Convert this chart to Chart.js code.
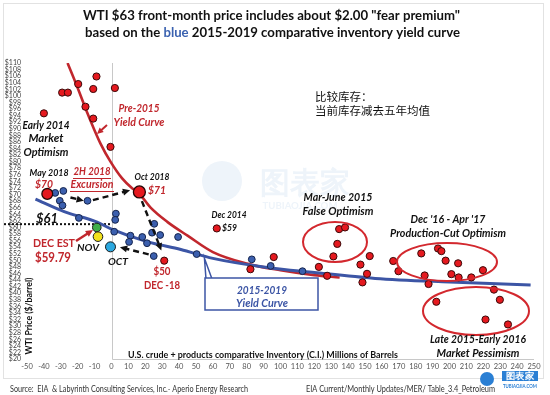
<!DOCTYPE html>
<html>
<head>
<meta charset="utf-8">
<script src="https://cdn.jsdelivr.net/npm/chart.js@4.4.1/dist/chart.umd.min.js"></script>
<style>
html, body { margin: 0; padding: 0; background: #fff; }
#wrap { width: 550px; height: 395px; }
</style>
</head>
<body>
<div id="wrap"><canvas id="chart" width="550" height="395"></canvas></div>
<script>
// axis ranges: [min, max, step]
const xBounds = [-50, 250, 10];
const yBounds = [20, 110, 2];

// pre-2015 yield curve (red)
const preCurveX = [-26, -20, -15, -10.5, -6.5, -0.6, 6.3, 12.2, 16.2, 23, 33, 45, 60, 80, 100, 120, 135];
const preCurveY = [110, 102.4, 95.7, 90.1, 85.5, 80, 74.9, 71.9, 70.4, 66.1, 61.7, 57.5, 52.5, 49, 47, 45.5, 44.8];

// 2015-2019 yield curve (blue)
const curveX = [-45, -28, -8.5, 0, 21, 41, 60, 90, 120, 156, 200, 248];
const curveY = [68.6, 64.8, 61.6, 59.5, 55.7, 53.3, 50.6, 48, 46.3, 44.5, 43.4, 42.5];

// red points (2014-2017 months + Dec-18)
const redX = [-40, -29.2, -25.8, -19.7, -8.9, -10.8, 2, -15.4, -10.8, -0.6,
  31.2, 62.3, 82.2, 96, 122.7, 127.6, 134.7, 138.2, 133.6, 131.3,
  147.3, 152.8, 151.2, 148.5, 166.7, 169.8, 183.3, 185.3, 187.6, 193.2,
  195.2, 197.7, 201.1, 205.1, 205.4, 212.9, 219.8, 226.3, 229.8, 192.2, 221.3, 234.6];
const redY = [94.7, 101, 101, 103.6, 105.9, 102.1, 102.4, 96.7, 93.1, 84.5,
  49.9, 59.7, 47.3, 51, 48, 45.3, 59.5, 60, 55, 51.2,
  48.7, 51.3, 45.9, 43.3, 49.8, 46.7, 52.1, 45.4, 42.8, 53.6,
  52.8, 49.9, 45.8, 49.1, 44.8, 44.8, 47, 41.1, 38, 37.4, 32, 30.5];

// blue points (2017-2018 months)
const blueX = [-33.3, -28.5, -30.6, -29, -14.2, -19.3, 2.6, 2.2, 1.6, 11.2, 10.4, 18.2, 21,
  25.3, 24, 28.8, 25, 39.4, 50.4, 83, 94.2, 113];
const blueY = [70.5, 71.1, 68.1, 66.7, 68.1, 62.9, 64.2, 62.3, 58.7, 57.5, 55.6, 57.1, 55.2,
  61.1, 58.4, 57.7, 51.3, 57.1, 51.9, 50.3, 48.3, 46.7];

// highlighted months [x, y]
const may2018 = [-38, 70.2];
const oct2018 = [16.5, 70.8];
const decEst = [-8.7, 60];
const novPt = [-8, 57.2];
const octPt = [-0.6, 54.1];
const priceLine = 61;

const zip = (xs, ys) => xs.map((x, i) => ({ x: x, y: ys[i] }));

const RED = '#c1272d';
const BLUE = '#3c55a5';
const FONT = 'Lato, "Open Sans", sans-serif';

// text at a given size, squeezed sideways to the width it has in the original
function text(ctx, s, x, y, style, size, color, width, align) {
    ctx.save();
    ctx.font = style + ' ' + size + 'px ' + FONT;
    ctx.fillStyle = color;
    ctx.textAlign = align || 'center';
    ctx.textBaseline = 'middle';
    const w = ctx.measureText(s).width;
    const k = width ? width / w : 1;
    ctx.translate(x, y);
    ctx.scale(k, 1);
    ctx.fillText(s, 0, 0);
    ctx.restore();
}

function arrowHead(ctx, x1, y1, x2, y2, size, color) {
    const a = Math.atan2(y2 - y1, x2 - x1);
    ctx.beginPath();
    ctx.moveTo(x2, y2);
    ctx.lineTo(x2 - size * Math.cos(a - 0.45), y2 - size * Math.sin(a - 0.45));
    ctx.lineTo(x2 - size * Math.cos(a + 0.45), y2 - size * Math.sin(a + 0.45));
    ctx.closePath();
    ctx.fillStyle = color;
    ctx.fill();
}

function arrow(ctx, x1, y1, x2, y2, color, width, dash, size) {
    const a = Math.atan2(y2 - y1, x2 - x1);
    ctx.save();
    ctx.strokeStyle = color;
    ctx.lineWidth = width;
    ctx.setLineDash(dash || []);
    ctx.beginPath();
    ctx.moveTo(x1, y1);
    ctx.lineTo(x2 - size * 0.8 * Math.cos(a), y2 - size * 0.8 * Math.sin(a));
    ctx.stroke();
    ctx.setLineDash([]);
    arrowHead(ctx, x1, y1, x2, y2, size, color);
    ctx.restore();
}

function ellipse(ctx, cx, cy, rx, ry) {
    ctx.beginPath();
    ctx.ellipse(cx, cy, rx, ry, 0, 0, Math.PI * 2);
    ctx.strokeStyle = '#d3282e';
    ctx.lineWidth = 2;
    ctx.stroke();
}

const decor = {
    id: 'decor',
    beforeDraw(chart) {
        const ctx = chart.ctx;
        ctx.save();
        ctx.fillStyle = '#fff';
        ctx.fillRect(0, 0, chart.width, chart.height);
        ctx.strokeStyle = '#e2e2e2';
        ctx.lineWidth = 1;
        ctx.strokeRect(3.5, 3.5, 540, 375);

        // faint watermark
        ctx.fillStyle = '#eef4fa';
        ctx.beginPath();
        ctx.arc(222, 181, 20, 0, Math.PI * 2);
        ctx.fill();
        text(ctx, '图表家', 305, 183, 'bold', 30, '#eef4fa', 90);
        text(ctx, 'TUBIAOJIA.COM', 300, 206, 'bold', 9, '#eef4fa', 75);
        ctx.restore();
    },
    beforeDatasetsDraw(chart) {
        const ctx = chart.ctx;
        const sx = chart.scales.x, sy = chart.scales.y;
        ctx.save();
        // vertical axis at zero and bottom axis line
        const x0 = Math.round(sx.getPixelForValue(0)) + 0.5;
        const yb = Math.round(sy.getPixelForValue(yBounds[0])) + 0.5;
        ctx.strokeStyle = '#c8c8c8';
        ctx.lineWidth = 1;
        ctx.beginPath();
        ctx.moveTo(x0, sy.getPixelForValue(yBounds[1]));
        ctx.lineTo(x0, yb);
        ctx.moveTo(x0, yb);
        ctx.lineTo(sx.getPixelForValue(xBounds[1]), yb);
        ctx.stroke();

        // $61 dotted line
        ctx.strokeStyle = '#111';
        ctx.lineWidth = 2;
        ctx.setLineDash([2, 2]);
        ctx.beginPath();
        ctx.moveTo(4, sy.getPixelForValue(priceLine));
        ctx.lineTo(sx.getPixelForValue(0), sy.getPixelForValue(priceLine));
        ctx.stroke();
        ctx.restore();
    },
    afterDatasetsDraw(chart) {
        const ctx = chart.ctx;
        const sx = chart.scales.x, sy = chart.scales.y;
        const p = (x, y) => [sx.getPixelForValue(x), sy.getPixelForValue(y)];
        ctx.save();

        // title, second line has the word "blue" in blue
        text(ctx, 'WTI $63 front-month price includes about $2.00 "fear premium"', 83, 15, 'bold', 14, '#111', 377, 'left');
        const parts = [['based on the ', '#111'], ['blue', '#3b62b0'], [' 2015-2019 comparative inventory yield curve', '#111']];
        ctx.font = 'bold 14px ' + FONT;
        const full = ctx.measureText(parts.map(pt => pt[0]).join('')).width;
        const k2 = 375 / full;
        let x = 85;
        parts.forEach(pt => {
            const w = ctx.measureText(pt[0]).width * k2;
            text(ctx, pt[0], x, 32, 'bold', 14, pt[1], w, 'left');
            x += w;
        });

        // Chinese note
        ctx.font = '11.5px "Noto Sans CJK SC"';
        ctx.fillStyle = '#111';
        ctx.textAlign = 'left';
        ctx.textBaseline = 'middle';
        ctx.fillText('比较库存：', 315, 97);
        ctx.fillText('当前库存减去五年均值', 315, 111);

        // dashed black path of 2018
        const dash = [6, 4];
        [[-24.3, 69.1, -16.4, 68.1], [-11, 68.3, 11, 71.3], [18, 68, 29.5, 53], [22, 51.8, 5, 54]].forEach(a => {
            const s = p(a[0], a[1]), e = p(a[2], a[3]);
            arrow(ctx, s[0], s[1], e[0], e[1], '#111', 2.4, dash, 8);
        });

        // red callouts
        arrow(ctx, 107, 125, 97, 134, RED, 2, null, 7);
        arrow(ctx, 76, 241, 93, 230, RED, 2.5, null, 8);

        // ellipses
        ellipse(ctx, 335, 242, 32, 20);
        ellipse(ctx, 447, 262, 50, 19);
        ellipse(ctx, 476, 311, 53, 24);

        // 2015-2019 box with wedge
        const tip = p(55, 50.6);
        ctx.fillStyle = '#fff';
        ctx.strokeStyle = BLUE;
        ctx.lineWidth = 1.5;
        ctx.beginPath();
        ctx.moveTo(206, 279);
        ctx.lineTo(tip[0], tip[1]);
        ctx.lineTo(212, 279);
        ctx.fill();
        ctx.stroke();
        ctx.fillRect(205, 278, 113, 32);
        ctx.strokeRect(205, 278, 113, 32);
        text(ctx, '2015-2019', 262, 290, 'italic bold', 11.5, BLUE, 50);
        text(ctx, 'Yield Curve', 262, 303, 'italic bold', 11.5, BLUE, 52);

        // labels
        const ib = 'italic bold';
        const L = 11.5;
        text(ctx, 'Early 2014', 46, 125, ib, L, '#111', 47);
        text(ctx, 'Market', 46, 138, ib, L, '#111', 35);
        text(ctx, 'Optimism', 46, 152, ib, L, '#111', 45);
        text(ctx, 'Pre-2015', 139, 108, ib, L, RED, 41);
        text(ctx, 'Yield Curve', 139, 122, ib, L, RED, 51);
        text(ctx, 'May 2018', 49, 173, ib, 9.5, '#111', 39);
        text(ctx, '$70', 44, 184, ib, L, RED, 18);
        text(ctx, '2H 2018', 92, 171, ib, L, RED, 37);
        text(ctx, 'Excursion', 92, 184, ib, L, RED, 43);
        ctx.strokeStyle = RED;
        ctx.lineWidth = 1;
        ctx.beginPath();
        ctx.moveTo(73, 178.5); ctx.lineTo(111, 178.5);
        ctx.moveTo(70, 191.5); ctx.lineTo(114, 191.5);
        ctx.stroke();
        text(ctx, 'Oct 2018', 152, 177, ib, 9.5, '#111', 35);
        text(ctx, '$71', 157, 190, ib, L, RED, 18);
        text(ctx, '$61', 47, 219, ib, 12.5, '#111', 22);
        text(ctx, 'DEC EST', 54, 243, 'bold', 12, RED, 42);
        text(ctx, '$59.79', 53, 258, 'bold', 12.5, RED, 36);
        text(ctx, 'NOV', 88, 248, ib, 9.5, '#111', 22);
        text(ctx, 'OCT', 118, 262, ib, 9.5, '#111', 20);
        text(ctx, 'Dec 2014', 229, 215, ib, 9, '#111', 35);
        text(ctx, '$59', 222, 228, ib, 9, '#111', 15, 'left');
        text(ctx, '$50', 162, 271, 'bold', L, RED, 17);
        text(ctx, 'DEC -18', 162, 285, 'bold', L, RED, 36);
        text(ctx, 'Mar-June 2015', 338, 197, ib, L, '#111', 69);
        text(ctx, 'False Optimism', 338, 211, ib, L, '#111', 71);
        text(ctx, "Dec '16 - Apr '17", 448, 219, ib, L, '#111', 75);
        text(ctx, 'Production-Cut Optimism', 448, 233, ib, L, '#111', 116);
        text(ctx, 'Late 2015-Early 2016', 478, 339, ib, L, '#111', 96);
        text(ctx, 'Market Pessimism', 478, 353, ib, L, '#111', 83);

        // axis titles inside plot
        text(ctx, 'U.S. crude + products comparative Inventory (C.I.) Millions of Barrels', 128, 355, 'bold', 9.5, '#111', 270, 'left');
        ctx.save();
        ctx.translate(29, 316);
        ctx.rotate(-Math.PI / 2);
        text(ctx, 'WTI Price ($/barrel)', 0, 0, 'bold', 9.5, '#111', 77);
        ctx.restore();

        // sources
        text(ctx, 'Source:  EIA  & Labyrinth Consulting Services, Inc.- Aperio Energy Research', 10, 389, 'normal', 8.5, '#333', 238, 'left');
        text(ctx, 'EIA Current/Monthly Updates/MER/ Table_3.4_Petroleum', 306, 389, 'normal', 8.5, '#333', 189, 'left');

        // corner logo
        ctx.fillStyle = '#2a7fd4';
        ctx.beginPath();
        ctx.arc(487, 379, 7, 0, Math.PI * 2);
        ctx.fill();
        ctx.fillRect(502, 371, 36, 10);
        text(ctx, '图表家', 520, 376, 'bold', 9, '#fff', 28);
        text(ctx, 'TUBIAOJIA.COM', 520, 386, 'bold', 5, '#2a7fd4', 34);
        ctx.restore();
    }
};

const redStyle = { backgroundColor: '#e5191f', borderColor: '#3a0a0a', borderWidth: 1 };
const blueStyle = { backgroundColor: '#3b5fae', borderColor: '#16254d', borderWidth: 1 };

new Chart(document.getElementById('chart'), {
    type: 'scatter',
    data: {
        datasets: [
            { label: 'Pre-2015', data: zip(preCurveX, preCurveY), showLine: true, borderColor: RED, borderWidth: 2.6,
              pointRadius: 0, cubicInterpolationMode: 'monotone', order: 10 },
            { label: '2015-2019', data: zip(curveX, curveY), showLine: true, borderColor: BLUE, borderWidth: 3,
              pointRadius: 0, cubicInterpolationMode: 'monotone', order: 9 },
            Object.assign({ label: 'red', data: zip(redX, redY), pointRadius: 3.6, order: 3 }, redStyle),
            Object.assign({ label: 'blue', data: zip(blueX, blueY), pointRadius: 3.4, order: 2 }, blueStyle),
            { label: 'big', data: [{ x: may2018[0], y: may2018[1] }, { x: oct2018[0], y: oct2018[1] }],
              pointRadius: [5.4, 6], backgroundColor: '#e5191f', borderColor: '#220505', borderWidth: 1.3, order: 1 },
            { label: 'months', data: [{ x: decEst[0], y: decEst[1] }, { x: novPt[0], y: novPt[1] }, { x: octPt[0], y: octPt[1] }],
              pointRadius: [4.3, 4.8, 5], backgroundColor: ['#3fae49', '#f2e11b', '#2ba8e0'], borderColor: '#1b1b1b',
              borderWidth: 1, order: 0 }
        ]
    },
    options: {
        responsive: false,
        animation: false,
        layout: { padding: { left: 0, top: 63, right: 16, bottom: 0 } },
        plugins: { legend: { display: false }, tooltip: { enabled: false } },
        scales: {
            x: {
                type: 'linear', min: xBounds[0], max: xBounds[1],
                grid: { display: false, drawTicks: false }, border: { display: false },
                ticks: { stepSize: xBounds[2], autoSkip: false, maxRotation: 0, padding: 3,
                         color: '#555', font: { size: 7.5, family: FONT } },
                afterFit(scale) { scale.height = 36; }
            },
            y: {
                type: 'linear', min: yBounds[0], max: yBounds[1],
                grid: { display: false, drawTicks: false }, border: { display: false },
                ticks: { stepSize: yBounds[2], autoSkip: false, padding: 6, color: '#444',
                         font: { size: 7, family: FONT }, callback: v => '$' + v },
                afterFit(scale) { scale.width = 27; }
            }
        }
    },
    plugins: [decor]
});
</script>
</body>
</html>
